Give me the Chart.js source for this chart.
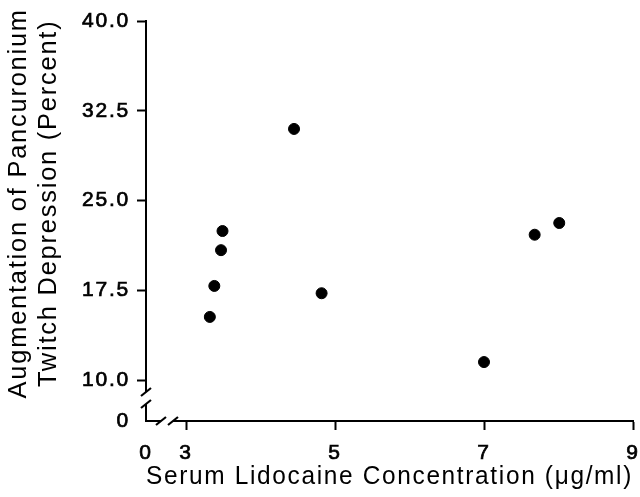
<!DOCTYPE html>
<html>
<head>
<meta charset="utf-8">
<script src="https://cdn.jsdelivr.net/npm/chart.js@4/dist/chart.umd.min.js"></script>
<style>
   html, body { margin: 0; padding: 0; background: #fff; }
   canvas { display: block; }
</style>
</head>
<body>
<canvas id="chart" width="640" height="497"></canvas>
<script>
// values
const lidocaine = [3.32, 3.38, 3.47, 3.49, 4.45, 4.82, 7.00, 7.68, 8.01];
const augmentation = [15.27, 17.86, 20.85, 22.45, 30.98, 17.25, 11.50, 22.14, 23.12];

const xTicks = [3, 5, 7, 9];
const yTicks = [10, 17.5, 25, 32.5, 40];

// the "0" at the broken origin
const xZero = 2.463;
const yZero = 6.574;

const fontFamily = "'Liberation Sans', Arial, Helvetica, sans-serif";

const points = lidocaine.map((x, i) => ({ x: x, y: augmentation[i] }));

// letter spacing of the printed figure; canvas state is reset on resize
const spacing = {
   id: 'spacing',
   beforeUpdate(chart) { chart.ctx.letterSpacing = '1.8px'; },
   beforeDraw(chart) { chart.ctx.letterSpacing = '1.8px'; }
};

// the // marks on both axes near the origin
const axisBreaks = {
   id: 'axisBreaks',
   afterDraw(chart) {
      const ctx = chart.ctx;
      const x = chart.scales.x, y = chart.scales.y;
      const left = x.left, bottom = y.bottom;
      ctx.save();
      ctx.letterSpacing = '0px';
      // y axis gap
      const yb1 = bottom - 29, yb2 = bottom - 17;
      ctx.fillStyle = '#fff';
      ctx.fillRect(left - 3, yb1, 6, yb2 - yb1);
      // x axis gap
      const xb1 = left + 15, xb2 = left + 27;
      ctx.fillRect(xb1, bottom - 3, xb2 - xb1, 6);
      ctx.strokeStyle = '#000';
      ctx.lineWidth = 2.2;
      ctx.beginPath();
      [yb1, yb2].forEach(v => {
         ctx.moveTo(left - 5, v + 4);
         ctx.lineTo(left + 5, v - 4);
      });
      [xb1, xb2].forEach(v => {
         ctx.moveTo(v - 5, bottom + 4);
         ctx.lineTo(v + 5, bottom - 4);
      });
      ctx.stroke();
      ctx.restore();
   }
};

function hideZeroTick(min) {
   return c => (c.tick && Math.abs(c.tick.value - min) < 1e-6) ? 'rgba(0,0,0,0)' : '#000';
}

new Chart(document.getElementById('chart'), {
   type: 'scatter',
   data: {
      datasets: [{
         data: points,
         backgroundColor: '#000',
         borderColor: '#000',
         pointRadius: 5.5,
         pointHoverRadius: 5.5
      }]
   },
   options: {
      responsive: false,
      animation: false,
      devicePixelRatio: 1,
      layout: {
         padding: { top: 21, right: 7, left: 0, bottom: 0 }
      },
      plugins: {
         legend: { display: false },
         tooltip: { enabled: false }
      },
      scales: {
         x: {
            type: 'linear',
            min: xZero,
            max: 9,
            afterBuildTicks: s => { s.ticks = [xZero].concat(xTicks).map(v => ({ value: v })); },
            afterFit: s => { s.height = 76; s.paddingLeft = 0; s.paddingRight = 0; },
            ticks: {
               autoSkip: false,
               maxRotation: 0,
               padding: 11,
               color: '#000',
               textStrokeColor: '#000',
               textStrokeWidth: 0.7,
               font: { family: fontFamily, size: 21 },
               callback: v => Math.abs(v - xZero) < 1e-6 ? '0' : String(v)
            },
            grid: {
               drawOnChartArea: false,
               drawTicks: true,
               tickLength: 9,
               tickWidth: 2,
               tickColor: hideZeroTick(xZero)
            },
            border: { display: true, color: '#000', width: 2 },
            title: {
               display: true,
               text: 'Serum Lidocaine Concentration (\u03bcg/ml)',
               color: '#000',
               font: { family: fontFamily, size: 26.3, lineHeight: 1.14 },
               padding: { top: 0, bottom: 4.8 }
            }
         },
         y: {
            type: 'linear',
            min: yZero,
            max: 40,
            afterBuildTicks: s => { s.ticks = [yZero].concat(yTicks).map(v => ({ value: v })); },
            afterFit: s => { s.width = 146; s.paddingTop = 0; s.paddingBottom = 0; },
            ticks: {
               autoSkip: false,
               padding: 7,
               color: '#000',
               textStrokeColor: '#000',
               textStrokeWidth: 0.7,
               font: { family: fontFamily, size: 21 },
               callback: v => Math.abs(v - yZero) < 1e-6 ? '0' : v.toFixed(1)
            },
            grid: {
               drawOnChartArea: false,
               drawTicks: true,
               tickLength: 9,
               tickWidth: 2,
               tickColor: hideZeroTick(yZero)
            },
            border: { display: true, color: '#000', width: 2 },
            title: {
               display: true,
               // leading spaces lift the centred lines to where the figure has them
               text: ['    Augmentation of Pancuronium', '    Twitch Depression (Percent)'],
               color: '#000',
               font: { family: fontFamily, size: 25.4, lineHeight: 1.18 },
               padding: { top: 4.5, bottom: 0 }
            }
         }
      }
   },
   plugins: [spacing, axisBreaks]
});
</script>
</body>
</html>
